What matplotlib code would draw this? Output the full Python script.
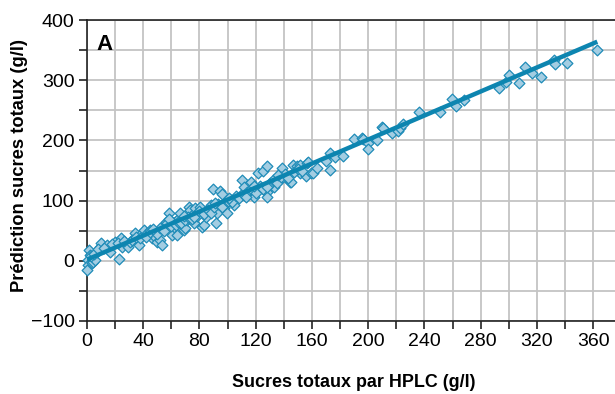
import matplotlib
matplotlib.use("Agg")
import matplotlib.pyplot as plt
from matplotlib.ticker import MultipleLocator, FuncFormatter
import numpy as np

plt.rcParams['font.family'] = ['Liberation Sans', 'DejaVu Sans']

# HPLC reference values (x) and predicted values (y)
hplc = [1.7, 2.1, 1.0, 0.5, 0.2, 3.3, 4.5, 5.7, 6.9, 9.3, 10.0, 14.0, 16.4, 20.0, 23.1,
        24.0, 24.8, 27.1, 29.5, 30.7, 33.1, 34.3, 36.7, 37.9, 40.2, 42.6, 44.5, 46.2,
        48.6, 49.8, 52.1, 53.3, 54.5, 56.4, 58.1, 59.3, 60.5, 61.7, 62.9, 64.0, 65.2,
        66.4, 68.8, 70.0, 71.2, 72.4, 73.6, 74.8, 76.0, 77.1, 78.3, 80.7, 81.9, 83.1,
        84.3, 85.5, 87.9, 89.8, 91.4, 92.6, 94.6, 95.8, 97.4, 99.8, 102.1, 104.5, 109.3,
        110.0, 111.7, 115.2, 116.5, 118.8, 121.2, 121.9, 125.4, 126.0, 127.8, 127.8,
        128.3, 130.2, 133.1, 138.5, 139.7, 144.4, 145.0, 146.8, 149.2, 151.5, 151.5,
        155.6, 156.3, 157.5, 159.4, 161.0, 163.8, 169.8, 172.9, 172.9, 176.7, 181.9,
        190.2, 195.4, 196.6, 200.2, 200.2, 206.0, 209.6, 210.8, 216.8, 221.5, 222.7,
        225.0, 236.2, 251.1, 259.9, 262.2, 268.4, 293.1, 297.9, 300.2, 307.0, 311.6,
        316.8, 323.0, 332.3, 333.0, 341.3, 362.6,
        3, 5, 8, 12, 18, 22, 26, 32, 35, 38, 42, 45, 50, 52, 55, 57, 60, 63, 65, 67,
        70, 72, 75, 78, 80, 83, 86, 88, 90, 93, 98, 100, 103, 106, 108, 112, 114, 117,
        120, 123, 125, 130, 132, 135, 138, 141, 143, 147, 150, 153,
        47, 58, 69, 76, 91, 96, 101, 113, 119, 128, 136]
pred = [18.0, 9.6, 1.3, -7.0, -15.3, -4.2, -1.5, 1.3, 15.2, 23.5, 29.0, 26.2, 15.2, 31.8, 2.9,
        37.3, 23.5, 29.0, 23.5, 31.8, 37.3, 45.6, 26.2, 42.8, 51.1, 45.6, 51.1, 37.3,
        40.1, 31.8, 34.5, 26.2, 59.4, 65.0, 78.8, 67.8, 42.8, 56.7, 65.0, 42.8, 70.5,
        78.8, 51.1, 53.9, 67.8, 89.9, 84.4, 76.1, 62.2, 87.1, 78.8, 89.9, 56.7, 59.4,
        73.3, 84.4, 92.7, 118.8, 62.2, 78.8, 116.5, 110.5, 87.1, 78.8, 101.0, 92.7, 109.3,
        134.0, 123.1, 112.1, 131.4, 106.5, 117.6, 145.3, 148.5, 117.6, 156.9, 114.8,
        106.5, 129.8, 123.1, 153.5, 139.7, 131.4, 131.4, 159.0, 156.9, 145.4, 159.0,
        141.4, 162.0, 163.6, 145.4, 145.4, 154.7, 166.0, 178.6, 150.8, 173.0, 174.6,
        201.8, 204.5, 201.8, 196.0, 185.0, 200.7, 222.0, 221.0, 211.8, 216.0, 220.0,
        227.0, 247.7, 247.7, 269.3, 257.7, 267.0, 287.6, 297.6, 308.6, 296.0, 321.4,
        312.5, 304.8, 333.5, 327.0, 328.0, 350.2,
        8, 12, 20, 22, 28, 30, 33, 35, 40, 38, 40, 48, 45, 55, 50, 62, 58, 60, 65, 62,
        68, 72, 70, 75, 82, 78, 85, 80, 90, 95, 95, 100, 97, 108, 104, 110, 115, 120,
        112, 125, 120, 128, 135, 130, 140, 145, 138, 148, 152, 150,
        52, 70, 74, 73, 96, 90, 104, 106, 124, 122, 142]

fit_x = [0, 363]
fit_y = [2, 364]

fig = plt.figure(figsize=(6.15, 3.94), dpi=100)
ax = fig.add_axes([0.1415, 0.1853, 0.8585, 0.7639])

ax.set_xlim(0, 375.6)
ax.set_ylim(-100, 400)

ax.xaxis.set_major_locator(MultipleLocator(20))
ax.yaxis.set_major_locator(MultipleLocator(50))
ax.xaxis.set_major_formatter(FuncFormatter(lambda v, p: '%d' % v if int(round(v)) % 40 == 0 else ''))
ax.yaxis.set_major_formatter(FuncFormatter(lambda v, p: ('%d' % v).replace('-', '\u2212') if int(round(v)) % 100 == 0 else ''))

ax.grid(True, color='#c4c4c4', lw=1.3)
ax.set_axisbelow(True)

ax.spines['right'].set_visible(False)
for s in ['left', 'bottom', 'top']:
    ax.spines[s].set_color('#222222')
    ax.spines[s].set_linewidth(1.2)

ax.tick_params(direction='out', length=6, width=1.2, color='#222222', labelsize=14, pad=3)

ax.scatter(hplc, pred, marker='D', s=30, facecolor='#a3cde2', edgecolor='#1f8cb8',
           linewidths=0.9, zorder=3, clip_on=False)
ax.plot(fit_x, fit_y, color='#0d85b0', lw=3.2, zorder=4, solid_capstyle='butt')

ax.text(0.018, 0.955, 'A', transform=ax.transAxes, fontsize=16, fontweight='bold',
        va='top', ha='left')

ax.set_ylabel('Prédiction sucres totaux (g/l)', fontsize=13.2, fontweight='bold')
ax.set_xlabel('Sucres totaux par HPLC (g/l)', fontsize=12.9, fontweight='bold')
ax.yaxis.set_label_coords(-0.127, 0.515)
ax.xaxis.set_label_coords(0.506, -0.206)
ax.yaxis.label.set_va('center')
ax.xaxis.label.set_va('center')

fig.savefig('out.png', dpi=100)
